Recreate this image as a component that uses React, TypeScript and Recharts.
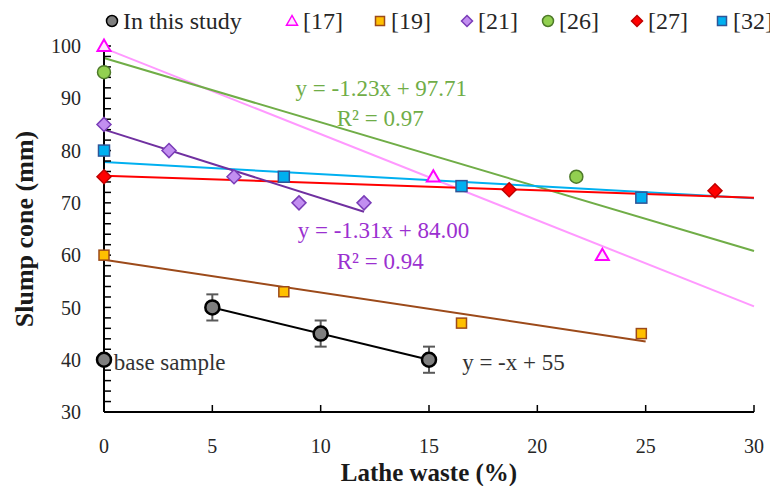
import React from 'react';
import { ComposedChart, Scatter, Line, XAxis, YAxis, ErrorBar, Legend, ReferenceDot } from 'recharts';

// ---- data ----
const studyX = [0, 5, 10, 15];
const studyY = [40, 50, 45, 40];
const studyErr = [0, 2.5, 2.5, 2.5];

const ref17X = [0, 15.2, 23.0];
const ref17Y = [100, 75, 60];
const ref19X = [0, 8.3, 16.5, 24.8];
const ref19Y = [60, 53, 47, 45];
const ref21X = [0, 3, 6, 9, 12];
const ref21Y = [85, 80, 75, 70, 70];
const ref26X = [0, 21.8];
const ref26Y = [95, 75];
const ref27X = [0, 18.7, 28.2];
const ref27Y = [75, 72.5, 72.3];
const ref32X = [0, 8.3, 16.5, 24.8];
const ref32Y = [80, 75, 73.2, 71];

// trend line end points
const trendStudyX = [5, 15];
const trendStudyY = [50, 40];
const trend17X = [0, 30];
const trend17Y = [99.6, 50.2];
const trend19X = [0, 25];
const trend19Y = [59.1, 43.5];
const trend21X = [0, 12];
const trend21Y = [84.0, 68.3];
const trend26X = [0, 30];
const trend26Y = [97.71, 60.8];
const trend27X = [0, 30];
const trend27Y = [75.2, 71.0];
const trend32X = [0, 30];
const trend32Y = [77.8, 70.9];

const legendNames = ['In this study', '[17]', '[19]', '[21]', '[26]', '[27]', '[32]'];
const xTicks = [0, 5, 10, 15, 20, 25, 30];
const yTicks = [30, 32, 34, 36, 38, 40, 42, 44, 46, 48, 50, 52, 54, 56, 58, 60, 62, 64, 66, 68, 70, 72, 74, 76, 78, 80, 82, 84, 86, 88, 90, 92, 94, 96, 98, 100];

const eq26 = 'y = -1.23x + 97.71';
const r26 = 'R² = 0.97';
const eq21 = 'y = -1.31x + 84.00';
const r21 = 'R² = 0.94';
const eqStudy = 'y = -x + 55';
const baseLabel = 'base sample';

const pts = (xs: number[], ys: number[], err?: number[]) =>
  xs.map((x, i) => (err ? { x, y: ys[i], err: err[i] } : { x, y: ys[i] }));

// ---- styles ----
const FONT = '"Liberation Serif", "Times New Roman", "DejaVu Serif", serif';
const styles = {
  study: { fill: '#7F7F7F', stroke: '#000000', line: '#000000' },
  r17: { fill: '#FFE6FF', stroke: '#FF00FF', line: '#FF99FF' },
  r19: { fill: '#FFC000', stroke: '#9C4A1A', line: '#9C4A1A' },
  r21: { fill: '#C28EF0', stroke: '#7A3DB8', line: '#7030A0' },
  r26: { fill: '#92D050', stroke: '#4E7A2A', line: '#70AD47' },
  r27: { fill: '#FF0000', stroke: '#C00000', line: '#FF0000' },
  r32: { fill: '#00B0F0', stroke: '#2F5597', line: '#00B0F0' },
};

type Kind = 'circle' | 'triangle' | 'square' | 'diamond';

function marker(kind: Kind, cx: number, cy: number, s: number, fill: string, stroke: string, sw: number) {
  if (kind === 'circle') return <circle cx={cx} cy={cy} r={s} fill={fill} stroke={stroke} strokeWidth={sw} />;
  if (kind === 'square') return <rect x={cx - s} y={cy - s} width={2 * s} height={2 * s} fill={fill} stroke={stroke} strokeWidth={sw} />;
  if (kind === 'diamond')
    return <polygon points={`${cx},${cy - s} ${cx + s},${cy} ${cx},${cy + s} ${cx - s},${cy}`} fill={fill} stroke={stroke} strokeWidth={sw} />;
  return <polygon points={`${cx},${cy - s} ${cx - s},${cy + s * 0.75} ${cx + s},${cy + s * 0.75}`} fill={fill} stroke={stroke} strokeWidth={sw} />;
}

const shapeOf = (kind: Kind, s: number, fill: string, stroke: string, sw: number) => (p: any) =>
  marker(kind, p.cx, p.cy, s, fill, stroke, sw);

const legendKinds: Kind[] = ['circle', 'triangle', 'square', 'diamond', 'circle', 'diamond', 'square'];
const legendStyles = [styles.study, styles.r17, styles.r19, styles.r21, styles.r26, styles.r27, styles.r32];
const legendMarkerX = [104, 284, 372, 459, 540, 629, 714];

const LegendContent = () => (
  <div style={{ position: 'relative', width: 770, height: 30 }}>
    {legendNames.map((name, i) => (
      <div
        key={name}
        style={{ position: 'absolute', left: legendMarkerX[i] - 7, top: 0, height: 26, display: 'flex', alignItems: 'center', whiteSpace: 'nowrap' }}
      >
        <svg width={14} height={14} style={{ marginRight: 4 }}>
          {marker(legendKinds[i], 7, 7, legendKinds[i] === 'square' ? 4.5 : 5.5, legendStyles[i].fill, legendStyles[i].stroke, 1.5)}
        </svg>
        <span style={{ fontFamily: FONT, fontSize: 24, color: '#262626', lineHeight: '26px' }}>{name}</span>
      </div>
    ))}
  </div>
);

const annot = (text: string, color: string, position: 'center' | 'right') => ({
  value: text,
  position,
  offset: 0,
  fill: color,
  fontSize: 23,
  fontFamily: FONT,
});

export default function App() {
  return (
    <div style={{ fontFamily: FONT }}>
      <ComposedChart
        width={770}
        height={478}
        margin={{ top: 38, right: 24, bottom: 14, left: 36 }}
        style={{ fontFamily: FONT }}
      >
        <XAxis
          type="number"
          dataKey="x"
          domain={[0, 30]}
          ticks={xTicks}
          interval={0}
          height={60}
          axisLine={{ stroke: '#000', strokeWidth: 2 }}
          tickLine={{ stroke: '#000', strokeWidth: 1.5 }}
          tickSize={-7}
          tickMargin={34}
          tick={{ fill: '#262626', fontSize: 20, fontFamily: FONT }}
          label={(p: any) => {
            const vb = p.viewBox;
            return (
              <text x={vb.x + vb.width / 2} y={vb.y + 69} textAnchor="middle" fontFamily={FONT} fontSize={25} fontWeight="bold" fill="#1a1a1a">
                Lathe waste (%)
              </text>
            );
          }}
        />
        <YAxis
          type="number"
          dataKey="y"
          domain={[30, 100]}
          ticks={yTicks}
          interval={0}
          width={60}
          axisLine={{ stroke: '#000', strokeWidth: 2 }}
          tickLine={{ stroke: '#000', strokeWidth: 1.5 }}
          tickSize={-7}
          tickMargin={30}
          tickFormatter={(v: number) => (v % 10 === 0 ? String(v) : '')}
          tick={{ fill: '#262626', fontSize: 20, fontFamily: FONT }}
          label={(p: any) => {
            const vb = p.viewBox;
            const cx = vb.x - 11;
            const cy = vb.y + vb.height / 2;
            return (
              <text x={cx} y={cy} transform={`rotate(-90, ${cx}, ${cy})`} textAnchor="middle" fontFamily={FONT} fontSize={26} fontWeight="bold" fill="#1a1a1a">
                Slump cone (mm)
              </text>
            );
          }}
        />
        <Legend verticalAlign="middle" align="center" layout="horizontal" wrapperStyle={{ top: 0, left: 0, width: 770, height: 30 }} content={LegendContent} />

        <Line data={pts(trend17X, trend17Y)} dataKey="y" stroke={styles.r17.line} strokeWidth={2} dot={false} activeDot={false} isAnimationActive={false} legendType="none" />
        <Line data={pts(trend26X, trend26Y)} dataKey="y" stroke={styles.r26.line} strokeWidth={2} dot={false} activeDot={false} isAnimationActive={false} legendType="none" />
        <Line data={pts(trend32X, trend32Y)} dataKey="y" stroke={styles.r32.line} strokeWidth={2} dot={false} activeDot={false} isAnimationActive={false} legendType="none" />
        <Line data={pts(trend27X, trend27Y)} dataKey="y" stroke={styles.r27.line} strokeWidth={2} dot={false} activeDot={false} isAnimationActive={false} legendType="none" />
        <Line data={pts(trend21X, trend21Y)} dataKey="y" stroke={styles.r21.line} strokeWidth={2} dot={false} activeDot={false} isAnimationActive={false} legendType="none" />
        <Line data={pts(trend19X, trend19Y)} dataKey="y" stroke={styles.r19.line} strokeWidth={2} dot={false} activeDot={false} isAnimationActive={false} legendType="none" />
        <Line data={pts(trendStudyX, trendStudyY)} dataKey="y" stroke={styles.study.line} strokeWidth={2} dot={false} activeDot={false} isAnimationActive={false} legendType="none" />

        <Scatter data={pts(ref17X, ref17Y)} dataKey="y" isAnimationActive={false} shape={shapeOf('triangle', 6.5, styles.r17.fill, styles.r17.stroke, 2)} />
        <Scatter data={pts(ref19X, ref19Y)} dataKey="y" isAnimationActive={false} shape={shapeOf('square', 5, styles.r19.fill, styles.r19.stroke, 1.5)} />
        <Scatter data={pts(ref21X, ref21Y)} dataKey="y" isAnimationActive={false} shape={shapeOf('diamond', 7, styles.r21.fill, styles.r21.stroke, 1.5)} />
        <Scatter data={pts(ref26X, ref26Y)} dataKey="y" isAnimationActive={false} shape={shapeOf('circle', 6.5, styles.r26.fill, styles.r26.stroke, 1.5)} />
        <Scatter data={pts(ref27X, ref27Y)} dataKey="y" isAnimationActive={false} shape={shapeOf('diamond', 7, styles.r27.fill, styles.r27.stroke, 1.5)} />
        <Scatter data={pts(ref32X, ref32Y)} dataKey="y" isAnimationActive={false} shape={shapeOf('square', 5.5, styles.r32.fill, styles.r32.stroke, 1.5)} />
        <Scatter data={pts(studyX, studyY, studyErr)} dataKey="y" isAnimationActive={false} shape={shapeOf('circle', 7, styles.study.fill, styles.study.stroke, 2.5)}>
          <ErrorBar dataKey="err" direction="y" width={6} stroke="#595959" strokeWidth={2} />
        </Scatter>

        <ReferenceDot x={12.8} y={92.0} r={0} fill="none" stroke="none" label={annot(eq26, '#70AD47', 'center')} />
        <ReferenceDot x={12.75} y={86.2} r={0} fill="none" stroke="none" label={annot(r26, '#70AD47', 'center')} />
        <ReferenceDot x={12.9} y={64.8} r={0} fill="none" stroke="none" label={annot(eq21, '#9B30D0', 'center')} />
        <ReferenceDot x={12.75} y={59.0} r={0} fill="none" stroke="none" label={annot(r21, '#9B30D0', 'center')} />
        <ReferenceDot x={16.53} y={39.5} r={0} fill="none" stroke="none" label={annot(eqStudy, '#333333', 'right')} />
        <ReferenceDot x={0.45} y={39.6} r={0} fill="none" stroke="none" label={annot(baseLabel, '#333333', 'right')} />
      </ComposedChart>
    </div>
  );
}
